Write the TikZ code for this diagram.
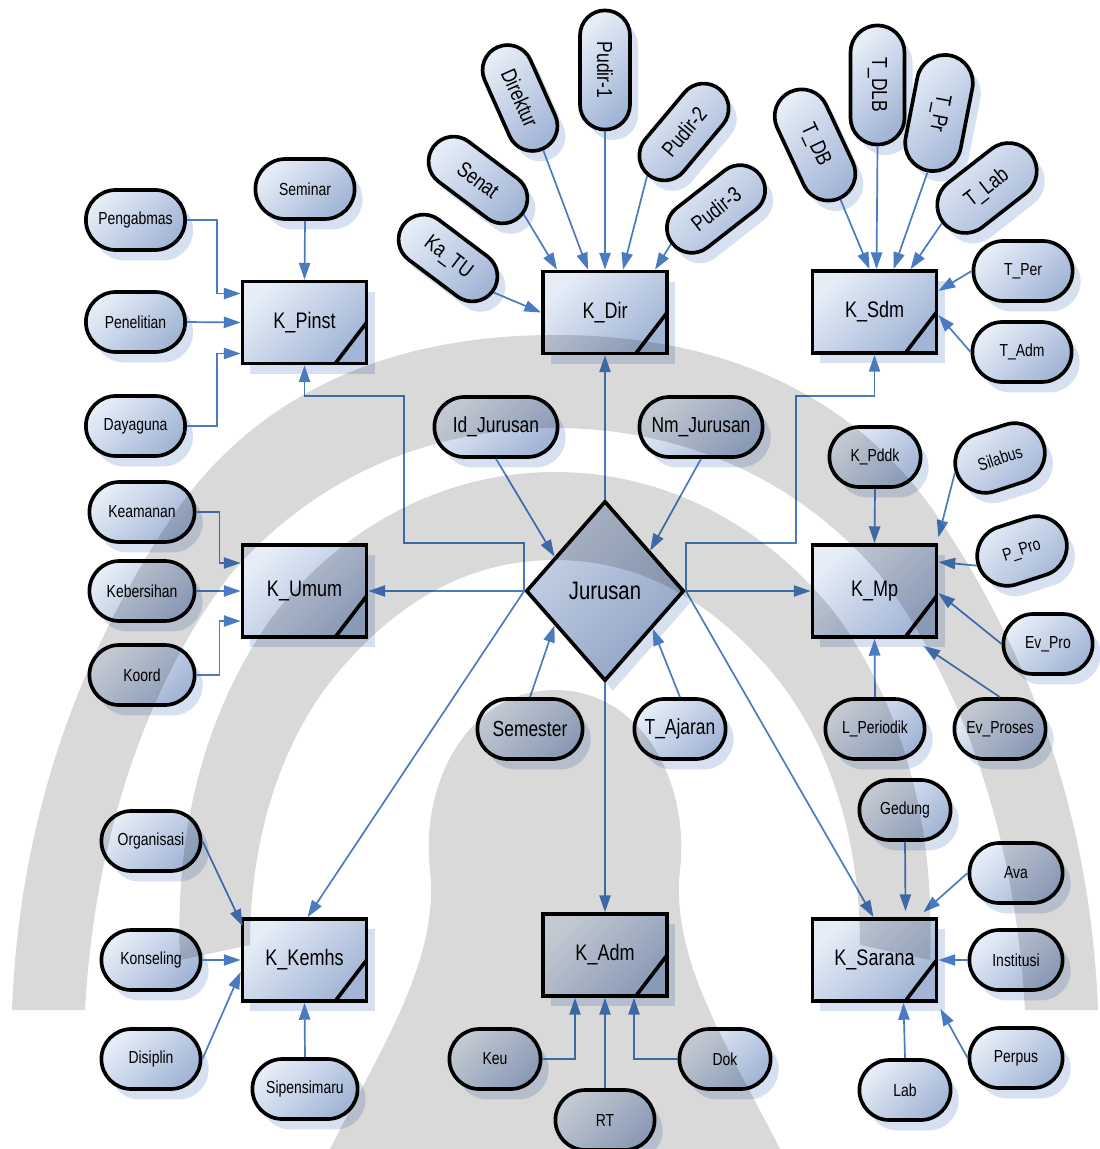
\documentclass[tikz,border=0pt]{standalone}
\usepackage{fontspec}
\setmainfont{Liberation Sans}[FakeStretch=0.8]
\usetikzlibrary{shapes.misc,shapes.geometric,arrows.meta,shadows,calc}

\definecolor{fillhi}{HTML}{E6EDF7}
\definecolor{filllo}{HTML}{A2B5D6}
\definecolor{relhi}{HTML}{C9D4E7}
\definecolor{rello}{HTML}{90A3C5}
\definecolor{link}{HTML}{4A7BC0}
\definecolor{shadowblue}{HTML}{C6D3EA}
\definecolor{mark}{HTML}{D9D9D9}

\newcommand\smallsz{\fontsize{12.4}{14}\selectfont}
\newcommand\midsz{\fontsize{15.5}{18}\selectfont}

\tikzset{
  base/.style={draw=black, line width=2.6pt, top color=fillhi, bottom color=filllo, shading angle=45,
    drop shadow={fill=shadowblue, opacity=0.7, shadow xshift=0.2cm, shadow yshift=-0.26cm}},
  attr/.style={base, rounded rectangle, inner sep=1pt, minimum width=2.55cm, minimum height=1.5cm, font=\smallsz},
  attrm/.style={attr, font=\midsz},
  tilt/.style={attrm, minimum width=2.85cm, minimum height=1.25cm, rotate=#1},
  ent/.style={base, rectangle, minimum width=3.1cm, minimum height=2.05cm, font=\fontsize{16}{19}\selectfont,
    path picture={\draw[line width=2.6pt] ([xshift=-0.78cm]path picture bounding box.south east)
      -- ([yshift=1.02cm]path picture bounding box.south east);}},
  rel/.style={base, diamond, top color=relhi, bottom color=rello, shading angle=45,
    minimum width=3.95cm, minimum height=4.5cm, inner sep=0pt, font=\fontsize{18}{21}\selectfont},
  arr/.style={draw=link, line width=1.2pt, -{Triangle[length=12pt,width=8pt]}},
  wm/.style={fill=mark, draw=none, blend mode=multiply}
}

\begin{document}
\begin{tikzpicture}[x=0.025cm, y=-0.025cm]
\useasboundingbox (0,0) rectangle (1099,1149);

% relationship and entities
\node[rel] (jur) at (605,591) {Jurusan};
\node[ent] (kpinst) at (304.5,322.5) {K\_Pinst};
\node[ent] (kdir) at (605,312.5) {K\_Dir};
\node[ent] (ksdm) at (874.5,312) {K\_Sdm};
\node[ent, minimum height=2.3cm] (kumum) at (304.5,591) {K\_Umum};
\node[ent, minimum height=2.3cm] (kmp) at (874.5,591) {K\_Mp};
\node[ent] (kkemhs) at (304.5,960) {K\_Kemhs};
\node[ent] (kadm) at (605,955) {K\_Adm};
\node[ent] (ksarana) at (874.5,960) {K\_Sarana};

% attributes of the relationship
\node[attrm, minimum width=3.15cm] (idj) at (496,427) {Id\_Jurusan};
\node[attrm, minimum width=3.15cm] (nmj) at (701,427) {Nm\_Jurusan};
\node[attrm, minimum width=2.7cm] (sem) at (530,729) {Semester};
\node[attrm, minimum width=2.35cm] (taj) at (680,729) {T\_Ajaran};

% K_Pinst
\node[attr] (seminar) at (305,189) {Seminar};
\node[attr] (pengabmas) at (135.5,220) {Pengabmas};
\node[attr] (penelitian) at (135.5,322) {Penelitian};
\node[attr] (dayaguna) at (135.5,426) {Dayaguna};

% K_Dir
\node[tilt=-37] (katu) at (448,258) {Ka\_TU};
\node[tilt=-37] (senat) at (478,180) {Senat};
\node[tilt=-66] (direktur) at (520,98) {Direktur};
\node[tilt=-90, minimum width=3.05cm] (pudir1) at (605,70) {Pudir-1};
\node[tilt=50] (pudir2) at (684,132) {Pudir-2};
\node[tilt=38] (pudir3) at (716,209) {Pudir-3};

% K_Sdm
\node[tilt=-65, minimum width=3.0cm, minimum height=1.35cm] (tdb) at (815,145) {T\_DB};
\node[tilt=-90, minimum width=3.05cm, minimum height=1.35cm] (tdlb) at (877.5,85) {T\_DLB};
\node[tilt=-101, minimum width=3.0cm, minimum height=1.4cm] (tpr) at (939,113) {T\_Pr};
\node[tilt=38, minimum width=2.85cm, minimum height=1.4cm] (tlab) at (987,188) {T\_Lab};
\node[attr] (tper) at (1023,271) {T\_Per};
\node[attr] (tadm) at (1022,352) {T\_Adm};

% K_Umum
\node[attr, minimum width=2.7cm] (keamanan) at (142,512) {Keamanan};
\node[attr, minimum width=2.7cm] (kebersihan) at (142,591) {Kebersihan};
\node[attr, minimum width=2.7cm] (koord) at (142,675) {Koord};

% K_Mp
\node[attr, minimum width=2.35cm] (kpddk) at (875,457) {K\_Pddk};
\node[attr, minimum width=2.35cm, rotate=18] (silabus) at (1000,458) {Silabus};
\node[attr, minimum width=2.35cm, rotate=18] (ppro) at (1022,551) {P\_Pro};
\node[attr, minimum width=2.3cm] (evpro) at (1048,644) {Ev\_Pro};
\node[attr] (lperiodik) at (875,729) {L\_Periodik};
\node[attr, minimum width=2.35cm] (evproses) at (1000,729) {Ev\_Proses};

% K_Kemhs
\node[attr] (organisasi) at (151,841) {Organisasi};
\node[attr] (konseling) at (151,960) {Konseling};
\node[attr] (disiplin) at (151,1059) {Disiplin};
\node[attr, minimum width=2.7cm] (sipensimaru) at (305,1089) {Sipensimaru};

% K_Adm
\node[attr, minimum width=2.35cm] (keu) at (495,1059) {Keu};
\node[attr] (rt) at (605,1120) {RT};
\node[attr, minimum width=2.35cm] (dok) at (725,1059) {Dok};

% K_Sarana
\node[attr, minimum width=2.35cm] (gedung) at (905,810) {Gedung};
\node[attr, minimum width=2.4cm] (ava) at (1016,873) {Ava};
\node[attr, minimum width=2.4cm] (institusi) at (1016,960) {Institusi};
\node[attr, minimum width=2.4cm] (perpus) at (1016,1058) {Perpus};
\node[attr, minimum width=2.35cm] (lab) at (905,1090) {Lab};

% links from Jurusan
\draw[arr] (jur.north) -- (kdir.south);
\draw[arr] (jur.south) -- (kadm.north);
\draw[arr] (jur.west) -- (kumum.east);
\draw[arr] (jur.east) -- (kmp.west);
\draw[arr] (jur.west) -- ($(kkemhs.north)+(3,0)$);
\draw[arr] (jur.east) -- ($(ksarana.north)+(-1,0)$);
\draw[arr] (jur.west) -- ++(0,-48) -- ++(-120,0) |- ($(kpinst.south)+(0,31)$) -- (kpinst.south);
\draw[arr] (jur.east) -- ++(0,-48) -- ++(110,0) |- ($(ksdm.south)+(0,41)$) -- (ksdm.south);

\draw[arr] (idj.south) -- ($(jur.west)!0.375!(jur.north)$);
\draw[arr] (nmj.south) -- ($(jur.north)!0.56!(jur.east)$);
\draw[arr] (sem.north) -- ($(jur.west)!0.375!(jur.south)$);
\draw[arr] (taj.north) -- ($(jur.east)!0.41!(jur.south)$);

% into K_Pinst
\draw[arr] (seminar.south) -- (kpinst.north);
\draw[arr] (pengabmas.east) -- ++(30,0) |- ($(kpinst.west)+(0,-29)$);
\draw[arr] (penelitian.east) -- (kpinst.west);
\draw[arr] (dayaguna.east) -- ++(30,0) |- ($(kpinst.west)+(0,31)$);

% into K_Dir
\draw[arr] (katu.east) -- (kdir.west);
\draw[arr] (senat.east) -- ($(kdir.north)+(-48,0)$);
\draw[arr] (direktur.east) -- ($(kdir.north)+(-17,0)$);
\draw[arr] (pudir1.east) -- (kdir.north);
\draw[arr] (pudir2.west) -- ($(kdir.north)+(18,0)$);
\draw[arr] (pudir3.west) -- ($(kdir.north)+(50,0)$);

% into K_Sdm
\draw[arr] (tdb.east) -- ($(ksdm.north)+(-5,0)$);
\draw[arr] (tdlb.east) -- ($(ksdm.north)+(2,0)$);
\draw[arr] (tpr.east) -- ($(ksdm.north)+(19,0)$);
\draw[arr] (tlab.west) -- ($(ksdm.north)+(36,0)$);
\draw[arr] (tper.west) -- ($(ksdm.east)+(0,-21)$);
\draw[arr] (tadm.west) -- ($(ksdm.east)+(0,3)$);

% into K_Umum
\draw[arr] (keamanan.east) -- ++(23,0) |- ($(kumum.west)+(0,-28)$);
\draw[arr] (kebersihan.east) -- (kumum.west);
\draw[arr] (koord.east) -- ++(23,0) |- ($(kumum.west)+(0,30)$);

% into K_Mp
\draw[arr] (kpddk.south) -- (kmp.north);
\draw[arr] (silabus.west) -- ($(kmp.north east)+(0,-6)$);
\draw[arr] (ppro.west) -- ($(kmp.east)+(0,-29)$);
\draw[arr] (evpro.west) -- ($(kmp.east)+(0,2)$);
\draw[arr] (evproses.north) -- ($(kmp.south east)+(-15,7)$);
\draw[arr] (lperiodik.north) -- (kmp.south);

% into K_Kemhs
\draw[arr] (organisasi.east) -- ($(kkemhs.north west)+(2,9)$);
\draw[arr] (konseling.east) -- (kkemhs.west);
\draw[arr] (disiplin.east) -- ($(kkemhs.west)+(0,12)$);
\draw[arr] (sipensimaru.north) -- (kkemhs.south);

% into K_Adm
\draw[arr] (keu.east) -| ($(kadm.south)+(-30,0)$);
\draw[arr] (rt.north) -- (kadm.south);
\draw[arr] (dok.west) -| ($(kadm.south)+(29,0)$);

% into K_Sarana
\draw[arr] (gedung.south) -- ($(ksarana.north)+(31,-6)$);
\draw[arr] (ava.west) -- ($(ksarana.north)+(49,-5)$);
\draw[arr] (institusi.west) -- (ksarana.east);
\draw[arr] (perpus.west) -- ($(ksarana.south east)+(2,6)$);
\draw[arr] (lab.north) -- ($(ksarana.south)+(29,0)$);

% watermark laid over everything
\path[wm] (170,520) .. controls (250,400) and (380,335) .. (555,335)
  .. controls (730,335) and (860,400) .. (940,520)
  .. controls (1020,640) and (1090,800) .. (1098,1010) -- (1025,1010)
  .. controls (1015,830) and (960,680) .. (880,575)
  .. controls (790,470) and (670,428) .. (555,428)
  .. controls (440,428) and (320,470) .. (230,575)
  .. controls (150,680) and (95,830) .. (85,1010) -- (12,1010)
  .. controls (20,800) and (90,640) .. (170,520) -- cycle;
\path[wm] (180,960) .. controls (175,840) and (200,720) .. (270,620)
  .. controls (330,540) and (430,472) .. (555,472)
  .. controls (680,472) and (780,540) .. (840,620)
  .. controls (910,720) and (935,840) .. (930,960) -- (860,945)
  .. controls (860,840) and (830,740) .. (770,670)
  .. controls (710,600) and (640,560) .. (555,560)
  .. controls (470,560) and (400,600) .. (340,670)
  .. controls (280,740) and (250,840) .. (250,945) -- cycle;
\path[wm] (330,1149) .. controls (380,1050) and (440,960) .. (430,870)
  .. controls (420,780) and (470,690) .. (555,690)
  .. controls (640,690) and (690,780) .. (680,870)
  .. controls (670,960) and (730,1050) .. (780,1149) -- cycle;
\end{tikzpicture}
\end{document}
